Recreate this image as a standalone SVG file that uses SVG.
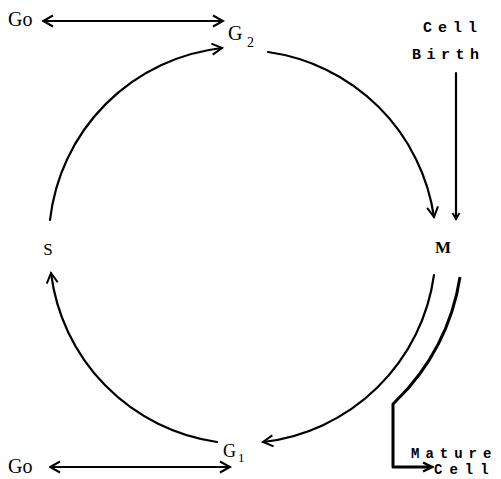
<svg xmlns="http://www.w3.org/2000/svg" width="501" height="479" viewBox="0 0 501 479">
<style>
.t{font-family:"Liberation Serif","DejaVu Serif",serif;fill:#000}
.m{font-family:"Liberation Mono","DejaVu Sans Mono",monospace;font-weight:bold;fill:#000}
.c{fill:none;stroke:#000;stroke-width:2.2;stroke-linecap:round}
.h{fill:none;stroke:#000;stroke-width:1.8}
</style>
<defs>
<marker id="a" markerUnits="userSpaceOnUse" markerWidth="14" markerHeight="14" refX="11" refY="6" orient="auto" viewBox="0 0 14 12">
<path d="M1,0.5 L11,6 L1,11.5" fill="none" stroke="#000" stroke-width="2"/>
</marker>
<marker id="as" markerUnits="userSpaceOnUse" markerWidth="14" markerHeight="14" refX="1" refY="6" orient="auto" viewBox="0 0 14 12">
<path d="M11,0.5 L1,6 L11,11.5" fill="none" stroke="#000" stroke-width="2"/>
</marker>
<marker id="sm" markerUnits="userSpaceOnUse" markerWidth="10" markerHeight="10" refX="7" refY="4" orient="auto" viewBox="0 0 10 8">
<path d="M1,0.5 L7,4 L1,7.5" fill="none" stroke="#000" stroke-width="1.8"/>
</marker>
<marker id="af" markerUnits="userSpaceOnUse" markerWidth="12" markerHeight="12" refX="9" refY="5" orient="auto" viewBox="0 0 12 10">
<path d="M1,0.5 L10,5 L1,9.5" fill="none" stroke="#000" stroke-width="2.5"/>
</marker>
</defs>
<g id="connectors">
<path class="c" d="M268 52 A195 195 0 0 1 434 217" marker-end="url(#a)"/>
<path class="c" d="M434 275 A195 195 0 0 1 263 442" marker-end="url(#a)"/>
<path class="c" d="M217 442 A195 195 0 0 1 51 273" marker-end="url(#a)"/>
<path class="c" d="M50 220 A195 195 0 0 1 222 48" marker-end="url(#a)"/>
<path class="h" d="M43 21 L223 21" marker-start="url(#as)" marker-end="url(#a)"/>
<path class="h" d="M50 467 L230 467" marker-start="url(#as)" marker-end="url(#a)"/>
<path class="c" d="M456 73 L456 219" marker-end="url(#sm)"/>
<path fill="none" stroke="#000" stroke-width="3" stroke-linejoin="round" d="M460 277 A218 218 0 0 1 396 401 L393 404 L393 467 L431 467" marker-end="url(#af)"/>
</g>
<g id="G0-top"><text class="t" x="8" y="26" font-size="20">Go</text></g>
<g id="G2"><text class="t" x="228" y="40" font-size="20">G</text><text class="t" x="247" y="47" font-size="14">2</text></g>
<g id="cell-birth"><text class="m" x="423" y="32" font-size="15" letter-spacing="6">Cell</text><text class="m" x="412" y="59" font-size="15" letter-spacing="5.5">Birth</text></g>
<g id="M"><text class="t" x="443" y="253" font-size="17" font-weight="bold" text-anchor="middle">M</text></g>
<g id="S"><text class="t" x="48" y="255" font-size="17" text-anchor="middle">S</text></g>
<g id="G1"><text class="t" x="223" y="457" font-size="18">G</text><text class="t" x="238" y="462" font-size="13">1</text></g>
<g id="G0-bottom"><text class="t" x="8" y="473" font-size="20">Go</text></g>
<g id="mature-cell"><text class="m" x="411" y="458" font-size="14" letter-spacing="6">Mature</text><text class="m" x="434" y="474" font-size="14" letter-spacing="7">Cell</text></g>
</svg>
